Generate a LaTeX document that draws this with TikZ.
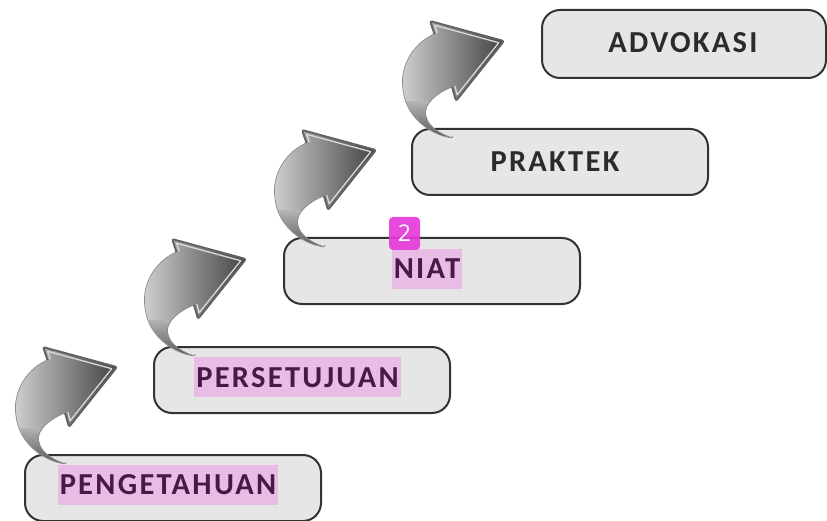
\documentclass[tikz,border=0pt]{standalone}
\usepackage{fontspec}
\setmainfont{Carlito}
\newfontfamily\labelfont{Carlito}[LetterSpace=7.5]
\newfontfamily\badgefont{Open Sans}
\usetikzlibrary{calc}
\definecolor{boxfill}{HTML}{E6E6E6}
\definecolor{boxline}{HTML}{333333}
\definecolor{hl}{HTML}{E8BCE4}
\definecolor{hltext}{HTML}{4A1848}
\definecolor{plaintext}{HTML}{2B2B2B}
\definecolor{badge}{HTML}{E43AD8}
\tikzset{
  stage/.style={draw=boxline, line width=2pt, fill=boxfill, rounded corners=18pt,
    minimum width=296pt, minimum height=66pt, inner sep=0pt, anchor=north west},
  plainlabel/.style={text=plaintext, font=\labelfont\bfseries\fontsize{30.5}{30.5}\selectfont,
    inner xsep=2pt, text height=20pt, text depth=0pt, minimum height=40pt},
  hllabel/.style={plainlabel, fill=hl, text=hltext},
  badgebox/.style={fill=badge, fill opacity=0.92, text opacity=1, text=white, rounded corners=4pt,
    minimum width=31pt, minimum height=33pt, inner sep=0pt,
    font=\badgefont\fontsize{23}{23}\selectfont},
  bentarrow/.pic={
    \shade[left color=black!18, right color=black!74, rounded corners=2pt]
      (0,0) .. controls (-22,-3) and (-46,-20) .. (-50,-48)
      .. controls (-53,-72) and (-40,-94) .. (-18.5,-104)
      -- (-23,-117) -- (51,-97) -- (3,-37) -- (-1,-51)
      .. controls (-14,-46) and (-30,-34) .. (-27,-22)
      .. controls (-24,-10) and (-10,-3) .. (0,0) -- cycle;
    \begin{scope}
      \clip (0,0) .. controls (-22,-3) and (-46,-20) .. (-50,-48)
      .. controls (-53,-72) and (-40,-94) .. (-18.5,-104)
      -- (-23,-117) -- (51,-97) -- (3,-37) -- (-1,-51)
      .. controls (-14,-46) and (-30,-34) .. (-27,-22)
      .. controls (-24,-10) and (-10,-3) .. (0,0) -- cycle;
      \shade[top color=black!30, bottom color=black!68] (-60,-36) rectangle (10,3);
    \end{scope}
    \draw[black!45, line width=0.7pt, rounded corners=2pt]
      (0,0) .. controls (-22,-3) and (-46,-20) .. (-50,-48)
      .. controls (-53,-72) and (-40,-94) .. (-18.5,-104)
      -- (-23,-117) -- (51,-97) -- (3,-37) -- (-1,-51)
      .. controls (-14,-46) and (-30,-34) .. (-27,-22)
      .. controls (-24,-10) and (-10,-3) .. (0,0) -- cycle;
    \draw[black!62, line width=1.8pt, line join=round, rounded corners=2pt]
      (-18.5,-104) -- (-23,-117) -- (51,-97) -- (3,-37) -- (-1,-51);
    \draw[white!85!black, line width=1.3pt, line join=round]
      (-15.7,-104.9) -- (-18.4,-112.7) -- (45.8,-95.3) -- (4.1,-43.2) -- (1.9,-51.9);
  }
}
\begin{document}
\begin{tikzpicture}[x=1pt, y=-1pt]
\useasboundingbox (0,0) rectangle (827,521);
% stages
\node[stage] (s1) at (24,454) {};
\node[stage] (s2) at (153,346) {};
\node[stage] (s3) at (283,237) {};
\node[stage, minimum width=296pt] (s4) at (411,128) {};
\node[stage, minimum width=284pt, minimum height=68pt] (s5) at (541,9) {};
% labels
\node[hllabel] (t1) at (168,484.5) {PENGETAHUAN};
\node[hllabel] (t2) at (297.5,377) {PERSETUJUAN};
\node[hllabel] (t3) at (427,269) {NIAT};
\node[plainlabel] (t4) at (555,162) {PRAKTEK};
\node[plainlabel] (t5) at (683,43) {ADVOKASI};
% curved arrows (from each stage towards the next)
\foreach \s in {s1,s2,s3,s4}{
  \pic at ($(\s.north west)+(42,10)$) {bentarrow};
}
% badge
\node[badgebox] (b2) at (404.5,233.5) {2};
\end{tikzpicture}
\end{document}
